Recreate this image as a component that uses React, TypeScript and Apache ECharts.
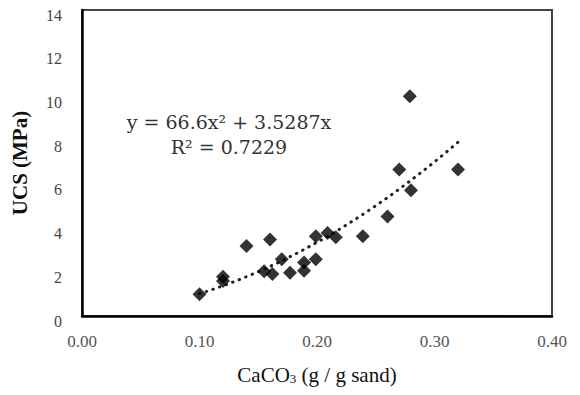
import React, { useEffect, useRef } from "react";
import * as echarts from "echarts";

// CaCO3 content (g / g sand) and UCS (MPa) of the samples
const caco3: number[] = [
  0.10, 0.12, 0.12, 0.14, 0.16, 0.155, 0.162, 0.17, 0.177, 0.189, 0.189,
  0.199, 0.199, 0.209, 0.216, 0.239, 0.26, 0.27, 0.279, 0.28, 0.32,
];
const ucs: number[] = [
  1.0, 1.8, 1.6, 3.2, 3.5, 2.05, 1.92, 2.6, 1.98, 2.45, 2.07,
  2.6, 3.65, 3.8, 3.6, 3.65, 4.55, 6.7, 10.05, 5.75, 6.7,
];

// Fitted trend line (polynomial, order 2, through origin) as shown on the chart
const trendA = 66.6;
const trendB = 3.5287;
const trendRange: [number, number] = [0.1, 0.32];
const equationText = "y = 66.6x² + 3.5287x";
const r2Text = "R² = 0.7229";

const xTicks = { min: 0, max: 0.4, interval: 0.1 };
const yTicks = { min: 0, max: 14, interval: 2 };

const xTitle = "CaCO{sub|3} (g / g sand)";
const yTitle = "UCS (MPa)";

export default function App() {
  const ref = useRef<HTMLDivElement>(null);

  useEffect(() => {
    if (!ref.current) return;
    const chart = echarts.init(ref.current, null, { renderer: "svg" });

    const points = caco3.map((x, i) => [x, ucs[i]]);
    const trend: number[][] = [];
    const steps = 44;
    for (let i = 0; i <= steps; i++) {
      const x = trendRange[0] + ((trendRange[1] - trendRange[0]) * i) / steps;
      trend.push([x, trendA * x * x + trendB * x]);
    }

    const serif = "'Liberation Serif', 'Times New Roman', serif";

    chart.setOption({
      animation: false,
      backgroundColor: "#fff",
      grid: {
        left: 82,
        right: 28,
        top: 10,
        bottom: 79,
        show: true,
        borderColor: "#444",
        borderWidth: 2,
        backgroundColor: "transparent",
      },
      xAxis: {
        type: "value",
        min: xTicks.min,
        max: xTicks.max,
        interval: xTicks.interval,
        name: xTitle,
        nameLocation: "middle",
        nameGap: 48,
        nameTextStyle: {
          fontFamily: serif,
          fontSize: 21,
          color: "#111",
          verticalAlign: "top",
          rich: {
            sub: { fontFamily: serif, fontSize: 13, verticalAlign: "bottom", lineHeight: 18, color: "#111" },
          },
        },
        axisLine: { show: true, onZero: false, lineStyle: { color: "#000", width: 2.5 } },
        axisTick: { show: false },
        splitLine: { show: false },
        axisLabel: {
          margin: 17,
          fontFamily: serif,
          fontSize: 17,
          color: "#555",
          formatter: (v: number) => v.toFixed(2),
        },
      },
      yAxis: {
        type: "value",
        min: yTicks.min,
        max: yTicks.max,
        interval: yTicks.interval,
        name: yTitle,
        nameLocation: "middle",
        nameGap: 52,
        nameTextStyle: {
          fontFamily: serif,
          fontSize: 21,
          fontWeight: "bold",
          color: "#111",
        },
        axisLine: { show: true, onZero: false, lineStyle: { color: "#000", width: 2.5 } },
        axisTick: { show: false },
        splitLine: { show: false },
        axisLabel: {
          margin: 20,
          fontFamily: serif,
          fontSize: 16,
          color: "#444",
          verticalAlign: "top",
          lineHeight: 10,
        },
      },
      series: [
        {
          type: "line",
          data: trend,
          showSymbol: false,
          symbol: "none",
          smooth: false,
          lineStyle: { color: "#222", width: 3, type: [0.5, 6.5], cap: "round" },
          z: 3,
          silent: true,
        },
        {
          type: "scatter",
          data: points,
          symbol: "diamond",
          symbolSize: 14,
          itemStyle: { color: "#000" },
          z: 4,
        },
      ],
      graphic: [
        {
          type: "text",
          x: 229,
          y: 122,
          style: {
            text: equationText,
            fontFamily: "'DejaVu Serif', serif",
            fontSize: 19,
            fill: "#333",
            align: "center",
            verticalAlign: "middle",
          },
        },
        {
          type: "text",
          x: 229,
          y: 147,
          style: {
            text: r2Text,
            fontFamily: "'DejaVu Serif', serif",
            fontSize: 19,
            fill: "#333",
            align: "center",
            verticalAlign: "middle",
          },
        },
      ],
    });

    return () => chart.dispose();
  }, []);

  return <div ref={ref} style={{ width: 580, height: 395, margin: -8 }} />;
}
